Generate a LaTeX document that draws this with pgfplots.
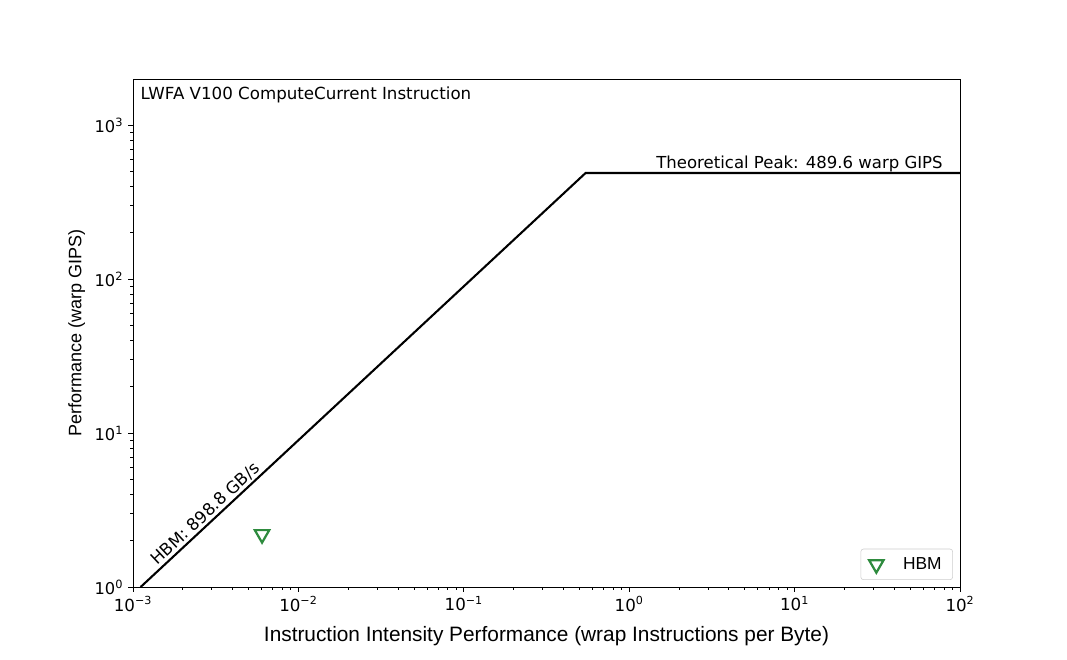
\documentclass[border=0pt]{standalone}
\usepackage{fontspec}
\setmainfont{DejaVu Sans}
\newfontfamily\arial{Liberation Sans}
\usepackage{pgfplots}
\pgfplotsset{compat=1.18}
\definecolor{hbmgreen}{RGB}{46,139,62}
\definecolor{legframe}{RGB}{204,204,204}
\begin{document}
\begin{tikzpicture}
\path[use as bounding box] (-95.76pt,-52.56pt) rectangle (672.48pt,422.64pt);
\begin{axis}[
  at={(0,0)}, anchor=south west, scale only axis,
  width=595.44pt, height=365.76pt,
  xmode=log, ymode=log,
  xmin=1e-3, xmax=1e2, ymin=1, ymax=2000,
  axis line style={line width=0.6pt},
  tick align=outside, tick pos=left,
  major tick length=3.5pt, minor tick length=2pt,
  every tick/.style={black, line width=0.6pt},
  xtick={1e-3,1e-2,1e-1,1,10,100},
  xticklabels={10\textsuperscript{−3},10\textsuperscript{−2},10\textsuperscript{−1},10\textsuperscript{0},10\textsuperscript{1},10\textsuperscript{2}},
  minor xtick={2e-3,3e-3,4e-3,5e-3,6e-3,7e-3,8e-3,9e-3,
               2e-2,3e-2,4e-2,5e-2,6e-2,7e-2,8e-2,9e-2,
               0.2,0.3,0.4,0.5,0.6,0.7,0.8,0.9,
               2,3,4,5,6,7,8,9,
               20,30,40,50,60,70,80,90},
  ytick={1,10,100,1000},
  yticklabels={10\textsuperscript{0},10\textsuperscript{1},10\textsuperscript{2},10\textsuperscript{3}},
  minor ytick={2,3,4,5,6,7,8,9,20,30,40,50,60,70,80,90,200,300,400,500,600,700,800,900},
  xticklabel style={font=\fontsize{12}{14}\selectfont},
  yticklabel style={font=\fontsize{11.7}{14}\selectfont},
  xlabel={\arial Instruction Intensity Performance (wrap Instructions per Byte)},
  ylabel={\arial Performance (warp GIPS)},
  xlabel style={font=\fontsize{15}{18}\selectfont, yshift=-4pt},
  ylabel style={font=\fontsize{13}{16}\selectfont},
  legend style={at={(rel axis cs:0.9915,0.0138)}, anchor=south east,
    draw=legframe, rounded corners=2pt, font=\arial\fontsize{12.5}{15}\selectfont,
    inner xsep=6pt, inner ysep=4pt},
  legend cell align=left,
]
\addplot[black, line width=1.5pt, forget plot] coordinates {(0.0011126,1) (0.54473,489.6) (100,489.6)};
\addplot[only marks, mark=triangle, mark size=6pt,
  mark options={rotate=180, draw=hbmgreen, line width=1.6pt}] coordinates {(0.00603,2.2)};
\addlegendentry{\hspace{12pt}HBM}
\node[anchor=north west, inner sep=0pt, font=\fontsize{12}{14}\selectfont] at (rel axis cs:0.009,0.985) {LWFA V100 ComputeCurrent Instruction};
\node[anchor=south east, inner sep=0pt, yshift=0.8pt, font=\fontsize{11.9}{14}\selectfont] at (axis cs:78.9,489.6) {Theoretical Peak: 489.6 warp GIPS};
\node[anchor=south west, inner sep=0pt, rotate=43.07, yshift=1.5pt, font=\fontsize{12}{14}\selectfont] at (axis cs:0.00146,1.31) {HBM: 898.8 GB/s};
\end{axis}
\end{tikzpicture}
\end{document}
